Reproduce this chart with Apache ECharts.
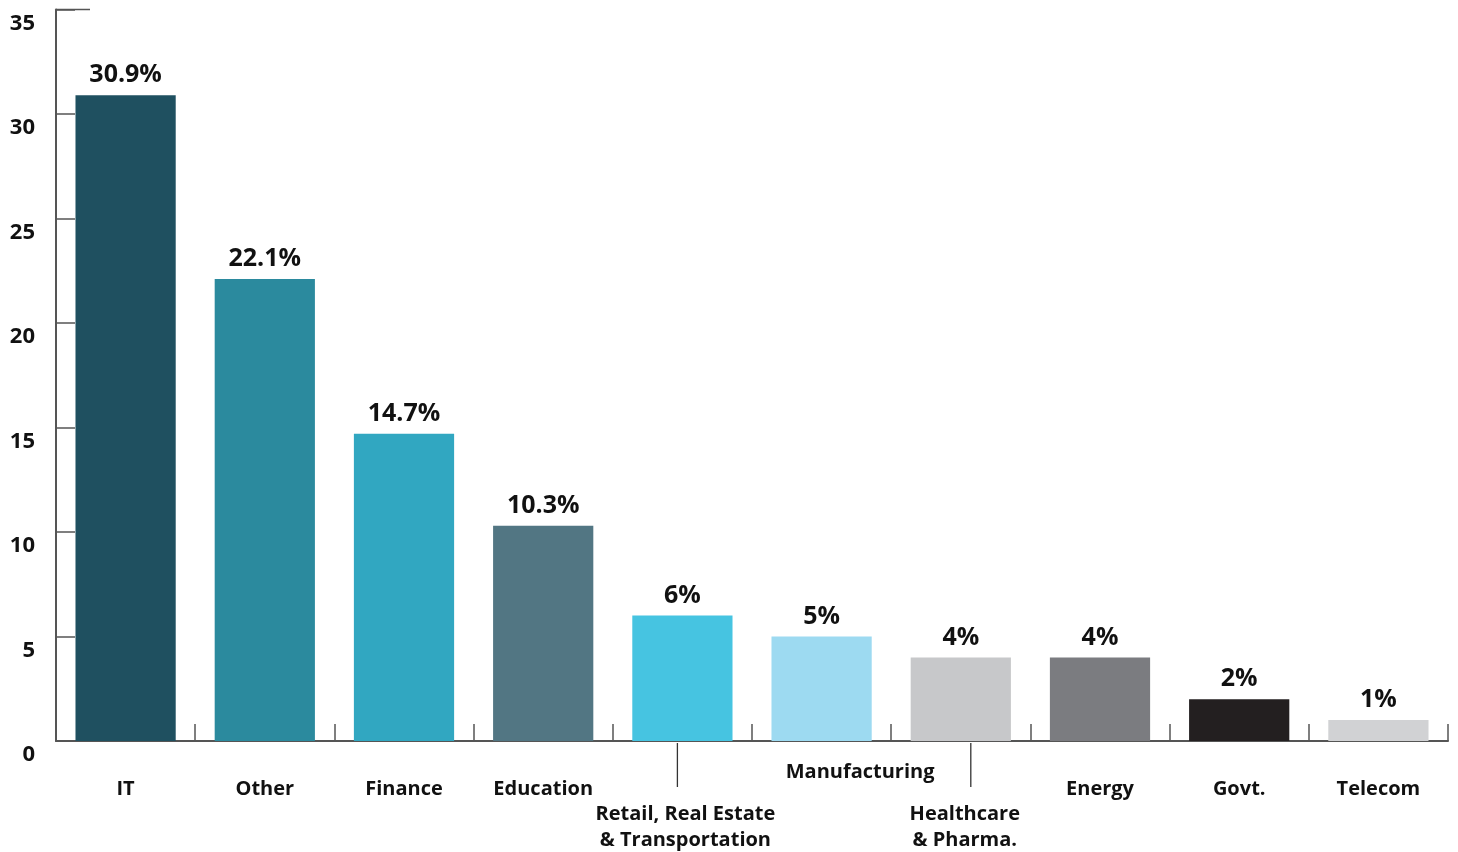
<!DOCTYPE html>
<html>
<head>
<meta charset="utf-8">
<title>Share by sector</title>
<script src="https://cdn.jsdelivr.net/npm/echarts@6/dist/echarts.min.js"></script>
<style>
  html, body { margin: 0; padding: 0; background: #ffffff; }
  #chart { width: 1458px; height: 852px; }
</style>
</head>
<body>
<div id="chart"></div>
<script>
// Sector names (a "\n" splits a name over two lines)
const categories = [
  'IT', 'Other', 'Finance', 'Education',
  'Retail, Real Estate\n& Transportation', 'Manufacturing',
  'Healthcare\n& Pharma.', 'Energy', 'Govt.', 'Telecom'
];
// Share of each sector, in percent
const shares = [30.9, 22.1, 14.7, 10.3, 6, 5, 4, 4, 2, 1];
// Text shown above each bar
const shareLabels = ['30.9%', '22.1%', '14.7%', '10.3%', '6%', '5%', '4%', '4%', '2%', '1%'];
// Value axis ticks
const yTicks = [0, 5, 10, 15, 20, 25, 30, 35];

const barColors = [
  '#1f5060', '#2b8a9e', '#31a7c1', '#527683', '#46c4e1',
  '#9ddaf1', '#c7c8ca', '#7b7c80', '#231f20', '#d1d2d4'
];

const axisColor = '#555555';
const labelFont = '"Open Sans", "Noto Sans", sans-serif';

// Names whose label hangs lower and gets a short leader line up to the axis,
// with the leader's sideways shift from the band centre
const leaderShift = {
  'Retail, Real Estate\n& Transportation': -5,
  'Healthcare\n& Pharma.': 10
};

function xLabel(value) {
  if (value === 'Manufacturing') return '{m|' + value + '}';
  const lines = value.split('\n');
  if (lines.length > 1) {
    const k = value.indexOf('Retail') === 0 ? 'r' : 'h';
    return '{sp| }\n{' + k + 't|' + lines[0] + '}\n{' + k + 'b|' + lines[1] + '}';
  }
  return '{d|' + value + '}';
}

const baseText = { fontFamily: labelFont, fontWeight: 700, fontSize: 20, color: '#111111', lineHeight: 26 };
const withText = (extra) => Object.assign({}, baseText, extra);

const chart = echarts.init(document.getElementById('chart'), null, { renderer: 'canvas' });

chart.setOption({
  animation: false,
  backgroundColor: '#ffffff',
  grid: { left: 56, right: 10, top: 9.5, bottom: 111, containLabel: false },
  xAxis: {
    type: 'category',
    data: categories,
    boundaryGap: true,
    axisLine: { show: true, lineStyle: { color: axisColor, width: 2 } },
    axisTick: { show: true, inside: true, length: 17, interval: 0, lineStyle: { color: axisColor, width: 1.5 } },
    axisLabel: {
      interval: 0,
      margin: 18,
      formatter: xLabel,
      rich: {
        d: withText({ lineHeight: 60 }),
        m: withText({ padding: [0, 0, 0, 77] }),
        sp: withText({ lineHeight: 42 }),
        rt: withText({ padding: [0, 0, 0, 6] }),
        rb: withText({ padding: [0, 0, 0, 6] }),
        ht: withText({ padding: [0, 0, 0, 8] }),
        hb: withText({ padding: [0, 0, 0, 8] })
      }
    },
    splitLine: { show: false }
  },
  yAxis: {
    type: 'value',
    min: yTicks[0],
    max: yTicks[yTicks.length - 1],
    interval: yTicks[1] - yTicks[0],
    axisLine: { show: true, lineStyle: { color: axisColor, width: 2 } },
    axisTick: { show: true, inside: true, length: 19, lineStyle: { color: axisColor, width: 1.5 } },
    axisLabel: {
      margin: 21,
      fontFamily: labelFont,
      fontWeight: 700,
      fontSize: 22,
      color: '#111111',
      verticalAlign: 'top',
      lineHeight: 28
    },
    splitLine: { show: false }
  },
  series: [
    {
      type: 'bar',
      data: shares,
      barWidth: '72%',
      itemStyle: { color: (p) => barColors[p.dataIndex] },
      label: {
        show: true,
        position: 'top',
        distance: 7,
        formatter: (p) => shareLabels[p.dataIndex],
        fontFamily: labelFont,
        fontWeight: 700,
        fontSize: 25,
        lineHeight: 26,
        color: '#111111'
      },
      silent: true
    },
    {
      // leader lines from the axis down to the lowered labels
      type: 'custom',
      coordinateSystem: 'cartesian2d',
      clip: false,
      silent: true,
      z: 5,
      data: categories.filter((c) => c in leaderShift).map((c) => [categories.indexOf(c), 0]),
      renderItem: function (params, api) {
        const idx = api.value(0);
        const p = api.coord([idx, 0]);
        const dx = leaderShift[categories[idx]];
        return {
          type: 'line',
          shape: { x1: p[0] + dx, y1: p[1] + 2, x2: p[0] + dx, y2: p[1] + 46 },
          style: { stroke: '#333333', lineWidth: 1.3 }
        };
      }
    },
    {
      // longer cap tick at the top of the value axis
      type: 'custom',
      coordinateSystem: 'cartesian2d',
      clip: false,
      silent: true,
      z: 5,
      data: [[0, yTicks[yTicks.length - 1]]],
      renderItem: function (params, api) {
        const p = api.coord([api.value(0), api.value(1)]);
        const left = p[0] - api.size([1, 0])[0] / 2;
        return {
          type: 'line',
          shape: { x1: left, y1: p[1], x2: left + 34, y2: p[1] },
          style: { stroke: axisColor, lineWidth: 1.5 }
        };
      }
    }
  ]
});
</script>
</body>
</html>
